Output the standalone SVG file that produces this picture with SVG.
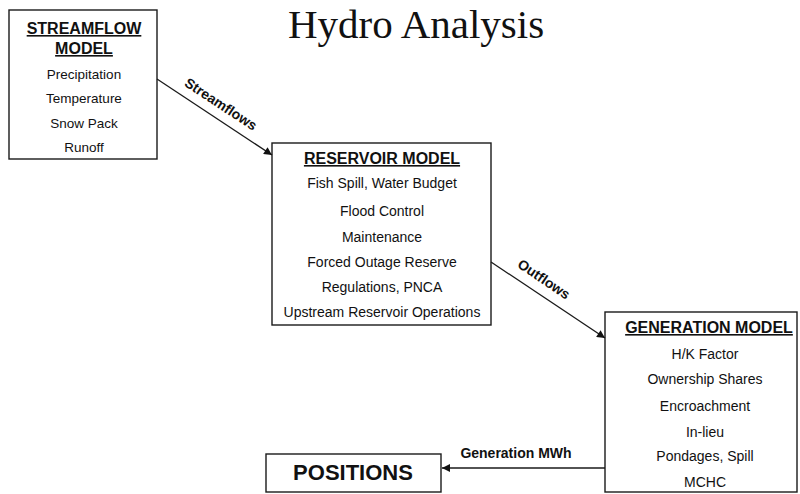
<svg xmlns="http://www.w3.org/2000/svg" width="800" height="494" viewBox="0 0 800 494">
<style>
.box{fill:#fff;stroke:#1a1a1a;stroke-width:1.4}
.t{font-family:"Liberation Sans",Arial,sans-serif;fill:#111;text-anchor:middle}
.h{font-weight:bold;font-size:16px;text-decoration:underline}
.i{font-size:14px}
.s{font-size:13.5px}
.lbl{font-family:"Liberation Sans",Arial,sans-serif;font-weight:bold;font-size:14px;fill:#111;text-anchor:middle}
.c{stroke:#1a1a1a;stroke-width:1.3;fill:none}
</style>
<defs>
<marker id="ah" viewBox="0 0 10 10" refX="10" refY="5" markerWidth="10" markerHeight="8" markerUnits="userSpaceOnUse" orient="auto">
<path d="M0,0 L10,5 L0,10 z" fill="#111"/>
</marker>
</defs>
<rect width="800" height="494" fill="#fff"/>
<text x="416" y="38" font-family="'Liberation Serif','Times New Roman',serif" font-size="41" fill="#111" text-anchor="middle">Hydro Analysis</text>

<g id="streamflow">
<rect class="box" x="9" y="10" width="148" height="149"/>
<text class="t h" x="84" y="34">STREAMFLOW</text>
<text class="t h" x="84" y="54">MODEL</text>
<text class="t s" x="84" y="79">Precipitation</text>
<text class="t s" x="84" y="103">Temperature</text>
<text class="t s" x="84" y="128">Snow Pack</text>
<text class="t s" x="84" y="152">Runoff</text>
</g>

<g id="reservoir">
<rect class="box" x="272" y="143" width="219" height="182"/>
<text class="t h" x="382" y="164">RESERVOIR MODEL</text>
<text class="t i" x="382" y="188">Fish Spill, Water Budget</text>
<text class="t i" x="382" y="216">Flood Control</text>
<text class="t i" x="382" y="242">Maintenance</text>
<text class="t i" x="382" y="267">Forced Outage Reserve</text>
<text class="t i" x="382" y="292">Regulations, PNCA</text>
<text class="t i" x="382" y="317">Upstream Reservoir Operations</text>
</g>

<g id="generation">
<rect class="box" x="605" y="312" width="192" height="180"/>
<text class="t h" x="709" y="333">GENERATION MODEL</text>
<text class="t i" x="705" y="359">H/K Factor</text>
<text class="t i" x="705" y="384">Ownership Shares</text>
<text class="t i" x="705" y="411">Encroachment</text>
<text class="t i" x="705" y="437">In-lieu</text>
<text class="t i" x="705" y="461">Pondages, Spill</text>
<text class="t i" x="705" y="487">MCHC</text>
</g>

<g id="positions">
<rect class="box" x="266" y="454" width="175" height="38"/>
<text class="t" x="353" y="480" font-size="22" font-weight="bold">POSITIONS</text>
</g>

<g id="connectors">
<line class="c" x1="157" y1="79" x2="272" y2="155" marker-end="url(#ah)"/>
<text class="lbl" transform="translate(221,104) rotate(33.5)" y="5">Streamflows</text>
<line class="c" x1="491" y1="262" x2="605" y2="338" marker-end="url(#ah)"/>
<text class="lbl" transform="translate(544,279) rotate(34)" y="5">Outflows</text>
<line class="c" x1="605" y1="468" x2="442" y2="468" marker-end="url(#ah)"/>
<text class="lbl" x="516" y="458" font-size="13">Generation MWh</text>
</g>
</svg>
